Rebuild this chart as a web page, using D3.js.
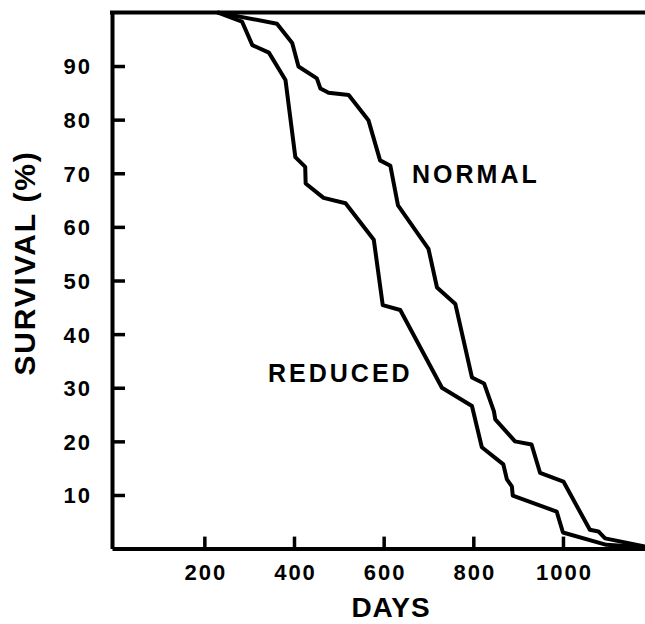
<!DOCTYPE html>
<html>
<head>
<meta charset="utf-8">
<script src="https://d3js.org/d3.v7.min.js"></script>
<style>
    body { margin: 0; background: #fff; }
    svg text { font-family: "Liberation Sans", Arial, sans-serif; font-weight: bold; fill: #000; }
</style>
</head>
<body>
<svg class="chart"></svg>
<script>
    // data: [days, survival %]
    var normalDays = [229, 362, 396, 410, 451, 459, 477, 522, 566, 592, 615, 632, 700, 719, 760, 797, 824, 846, 849, 893, 930, 949, 1001, 1060, 1079, 1094, 1183];
    var normalPct  = [100, 97.9, 94.3, 89.9, 87.7, 85.8, 85.0, 84.6, 79.9, 72.4, 71.4, 64.0, 55.9, 48.7, 45.6, 31.9, 30.8, 25.6, 24.1, 20.0, 19.4, 14.1, 12.5, 3.5, 3.2, 1.9, 0.4];

    var reducedDays = [229, 284, 307, 344, 381, 403, 425, 426, 466, 515, 578, 598, 637, 730, 797, 819, 867, 875, 886, 888, 986, 1000, 1097, 1183];
    var reducedPct  = [100, 98.3, 93.9, 92.5, 87.4, 73.0, 71.2, 68.1, 65.4, 64.4, 57.6, 45.4, 44.5, 30.0, 26.6, 18.9, 15.7, 12.9, 11.6, 9.9, 6.9, 3.0, 0.7, 0.25];

    var xTicks = [200, 400, 600, 800, 1000];
    var yTicks = [10, 20, 30, 40, 50, 60, 70, 80, 90];

    var width = 645, height = 624;
    var svg = d3.select(".chart").attr("width", width).attr("height", height);

    var x = d3.scaleLinear().domain([-6, 1183]).range([112, 645]);
    var y = d3.scaleLinear().domain([0, 100]).range([548.6, 12.4]);

    //left axis
    var yAxis = d3.axisLeft(y).tickValues(yTicks).tickSize(-13).tickSizeOuter(0).tickPadding(0).tickFormat(d3.format("d"));
    var gy = svg.append("g")
        .attr("transform", "translate(" + x(-6) + ",0)")
        .call(yAxis);
    gy.select(".domain").attr("stroke", "#000").attr("stroke-width", 4);
    gy.selectAll(".tick line").attr("stroke", "#000").attr("stroke-width", 3.5);
    gy.selectAll(".tick text")
        .attr("x", -20)
        .attr("dy", "0.36em")
        .style("font-size", "22px")
        .style("letter-spacing", "2px");

    //bottom axis
    var xAxis = d3.axisBottom(x).tickValues(xTicks).tickSize(-12).tickSizeOuter(0).tickPadding(0).tickFormat(d3.format("d"));
    var gx = svg.append("g")
        .attr("transform", "translate(0," + y(0) + ")")
        .call(xAxis);
    gx.select(".domain").attr("stroke", "#000").attr("stroke-width", 4);
    gx.selectAll(".tick line").attr("stroke", "#000").attr("stroke-width", 3.5);
    gx.selectAll(".tick text")
        .attr("y", 31)
        .attr("dy", 0)
        .attr("dx", 1)
        .style("font-size", "22px")
        .style("letter-spacing", "2px");

    //top frame line
    svg.append("line")
        .attr("x1", x(-6) - 2).attr("x2", width)
        .attr("y1", y(100)).attr("y2", y(100))
        .attr("stroke", "#000").attr("stroke-width", 4);

    var line = d3.line()
        .x(function(d) { return x(d[0]); })
        .y(function(d) { return y(d[1]); });

    var normal = d3.zip(normalDays, normalPct);
    var reduced = d3.zip(reducedDays, reducedPct);

    [normal, reduced].forEach(function(s) {
        svg.append("path")
            .datum(s)
            .attr("d", line)
            .attr("fill", "none")
            .attr("stroke", "#000")
            .attr("stroke-width", 4)
            .attr("stroke-linejoin", "round");
    });

    // labels
    svg.append("text")
        .attr("x", 412).attr("y", 183)
        .style("font-size", "25px").style("letter-spacing", "3px")
        .text("NORMAL");
    svg.append("text")
        .attr("x", 268).attr("y", 382)
        .style("font-size", "25px").style("letter-spacing", "3px")
        .text("REDUCED");

    svg.append("text")
        .attr("x", 391).attr("y", 617)
        .attr("text-anchor", "middle")
        .style("font-size", "28px").style("letter-spacing", "1px")
        .text("DAYS");
    svg.append("text")
        .attr("transform", "translate(35,263) rotate(-90)")
        .attr("text-anchor", "middle")
        .style("font-size", "30px").style("letter-spacing", "1.8px")
        .text("SURVIVAL (%)");
</script>
</body>
</html>
